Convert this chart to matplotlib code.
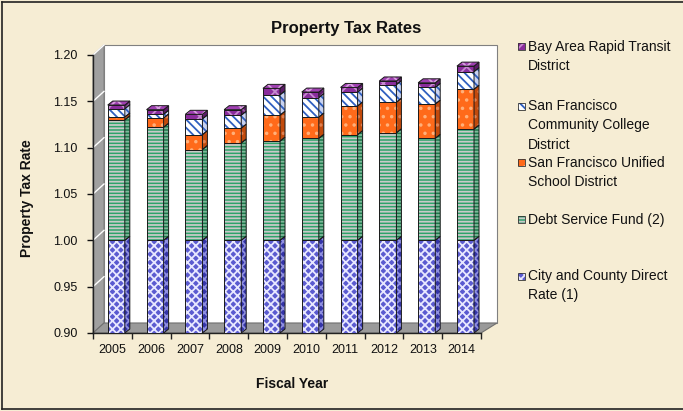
import matplotlib
matplotlib.use('Agg')
import matplotlib.pyplot as plt
from matplotlib.patches import Polygon, Rectangle
from matplotlib.lines import Line2D
from matplotlib.transforms import IdentityTransform
import numpy as np

# ---------------- data ----------------
years = ['2005', '2006', '2007', '2008', '2009', '2010', '2011', '2012', '2013', '2014']
city_direct = [1.000, 1.000, 1.000, 1.000, 1.000, 1.000, 1.000, 1.000, 1.000, 1.000]
debt_service = [0.130, 0.122, 0.098, 0.105, 0.107, 0.110, 0.114, 0.116, 0.110, 0.120]
sfusd = [0.003, 0.010, 0.016, 0.016, 0.028, 0.023, 0.031, 0.033, 0.037, 0.043]
college = [0.009, 0.004, 0.017, 0.014, 0.022, 0.021, 0.015, 0.019, 0.018, 0.019]
bart = [0.004, 0.005, 0.005, 0.006, 0.007, 0.006, 0.005, 0.004, 0.005, 0.006]

series_values = [city_direct, debt_service, sfusd, college, bart]
legend_labels = [
    ['Bay Area Rapid Transit', 'District'],
    ['San Francisco', 'Community College', 'District'],
    ['San Francisco Unified', 'School District'],
    ['Debt Service Fund (2)'],
    ['City and County Direct', 'Rate (1)'],
]
y_ticks = [0.90, 0.95, 1.00, 1.05, 1.10, 1.15, 1.20]

# styles: face, hatch, hatch colour, side face, side hatch colour
styles = [
    dict(face='#5B5BD0', hatch='xxxx', hc='#E8E8FF', side='#3434A8', shc='#9090E0'),
    dict(face='#2EA36A', hatch='-----', hc='#C9C9C9', side='#1E7A4C', shc='#7FB89A'),
    dict(face='#FF6A1A', hatch='..', hc='#FFB07A', side='#C24A0C', shc='#E08050'),
    dict(face='#FFFFFF', hatch='\\\\\\\\', hc='#2F5FC0', side='#C8D2F0', shc='#2F5FC0'),
    dict(face='#8A2C9C', hatch='xx', hc='#C58ACF', side='#5C1A68', shc='#9A5AA6'),
]
cap_style = dict(face='#A040B2', hc='#D8A0E0')

W, H = 683, 411
plt.rcParams['font.family'] = ['Liberation Sans', 'DejaVu Sans']
plt.rcParams['hatch.linewidth'] = 1.3

fig = plt.figure(figsize=(W / 100, H / 100), dpi=100)
fig.patch.set_facecolor('#F6EDD4')

AX_L, AX_R, AX_T, AX_B = 93, 481, 55, 333
ax = fig.add_axes([AX_L / W, (H - AX_B) / H, (AX_R - AX_L) / W, (AX_B - AX_T) / H])
ax.set_xlim(-0.5, len(years) - 0.5)
ax.set_ylim(0.9, 1.2)
ax.patch.set_visible(False)
for s in ['top', 'right']:
    ax.spines[s].set_visible(False)
ax.spines['left'].set_color('#222222')
ax.spines['bottom'].set_color('#222222')
ax.spines['left'].set_linewidth(1.0)
ax.spines['bottom'].set_linewidth(1.0)


def P(px, py):
    return (px, H - py)


IT = IdentityTransform()
DX, DY = 11, 10
# walls
left_wall = Polygon([P(AX_L, AX_B), P(AX_L + DX, AX_B - DY), P(AX_L + DX, AX_T - DY), P(AX_L, AX_T)],
                    closed=True, transform=IT, facecolor='#A0A0A0', edgecolor='#808080',
                    lw=0.8, clip_on=False, zorder=0.5)
back_wall = Polygon([P(AX_L + DX, AX_B - DY), P(497, AX_B - DY), P(497, AX_T - DY), P(AX_L + DX, AX_T - DY)],
                    closed=True, transform=IT, facecolor='white', edgecolor='#808080',
                    lw=0.8, clip_on=False, zorder=0.4)
floor = Polygon([P(AX_L, AX_B), P(AX_R, AX_B), P(497, AX_B - DY), P(AX_L + DX, AX_B - DY)],
                closed=True, transform=IT, facecolor='#9A9A9A', edgecolor='#707070',
                lw=0.8, clip_on=False, zorder=0.6)
for p in (back_wall, left_wall, floor):
    ax.add_patch(p)

# white gridlines on the left wall
for yt in y_ticks[1:]:
    a = ax.transData.transform((-0.5, yt))
    ax.add_line(Line2D([a[0], a[0] + DX], [a[1], a[1] + DY], transform=IT, color='white',
                       lw=1.0, clip_on=False, zorder=0.7))

# ---------------- bars ----------------
x = np.arange(len(years)) + 0.1
bw = 0.44
bdx, bdy = 5, 4
bottoms = np.zeros(len(years))
ymin = 0.9


def add_poly(pts, face, hatch, hc, z):
    ax.add_patch(Polygon(pts, closed=True, transform=IT, facecolor=face, hatch=hatch,
                         edgecolor=hc, lw=0, clip_on=False, zorder=z))
    ax.add_patch(Polygon(pts, closed=True, transform=IT, fill=False, edgecolor='#1A1A1A',
                         lw=0.7, clip_on=False, zorder=z + 0.05))


for j, vals in enumerate(series_values):
    st = styles[j]
    vals = np.array(vals)
    ax.bar(x, vals, bw, bottom=bottoms, color=st['face'], hatch=st['hatch'],
           edgecolor=st['hc'], lw=0, zorder=3)
    ax.bar(x, vals, bw, bottom=bottoms, fill=False, edgecolor='#1A1A1A', lw=0.7, zorder=3.05)
    for i in range(len(years)):
        y0 = max(bottoms[i], ymin)
        y1 = bottoms[i] + vals[i]
        a = ax.transData.transform((x[i] + bw / 2, y0))
        b = ax.transData.transform((x[i] + bw / 2, y1))
        pts = [a, a + (bdx, bdy), b + (bdx, bdy), b]
        add_poly(pts, st['side'], st['hatch'], st['shc'], 3.2)
    bottoms = bottoms + vals

# top caps
for i in range(len(years)):
    tl = ax.transData.transform((x[i] - bw / 2, bottoms[i]))
    tr = ax.transData.transform((x[i] + bw / 2, bottoms[i]))
    pts = [tl, tr, tr + (bdx, bdy), tl + (bdx, bdy)]
    add_poly(pts, cap_style['face'], 'xx', cap_style['hc'], 3.3)

# ---------------- axes ticks ----------------
ax.set_yticks(y_ticks)
ax.set_yticklabels(['%.2f' % v for v in y_ticks])
ax.tick_params(axis='y', direction='out', length=4, width=1, pad=7, labelsize=9, colors='#111111')
ax.set_xticks(np.arange(len(years)))
ax.set_xticklabels(years)
ax.set_xticks(np.arange(-0.5, len(years), 1.0), minor=True)
ax.tick_params(axis='x', which='major', length=0, pad=8, labelsize=9, colors='#111111')
ax.tick_params(axis='x', which='minor', direction='out', length=4, width=1, colors='#222222')

# ---------------- texts ----------------
fig.text(346 / W, 1 - 29 / H, 'Property Tax Rates', ha='center', va='center',
         fontsize=12, fontweight='bold', color='#111111')
fig.text(292 / W, 1 - 384 / H, 'Fiscal Year', ha='center', va='center',
         fontsize=10, fontweight='bold', color='#111111')
fig.text(27 / W, 1 - 198 / H, 'Property Tax Rate', ha='center', va='center', rotation=90,
         fontsize=10, fontweight='bold', color='#111111')

# ---------------- legend ----------------
legend_y = [47, 106, 163, 220, 276]
legend_styles = [styles[4], styles[3], styles[2], styles[1], styles[0]]
line_gap = 19.5
for lab, ly, st in zip(legend_labels, legend_y, legend_styles):
    fig.add_artist(Rectangle((518 / W, 1 - (ly + 3.5) / H), 7 / W, 7 / H, transform=fig.transFigure,
                             facecolor=st['face'], hatch=st['hatch'], edgecolor=st['hc'], lw=0))
    fig.add_artist(Rectangle((518 / W, 1 - (ly + 3.5) / H), 7 / W, 7 / H, transform=fig.transFigure,
                             fill=False, edgecolor='#333333', lw=0.6))
    for k, line in enumerate(lab):
        fig.text(528 / W, 1 - (ly + k * line_gap) / H, line, ha='left', va='center',
                 fontsize=10, color='#111111')

# frame
for xs, ys in [([2, 2], [2, 409]), ([2, W], [2, 2]), ([2, W], [409, 409])]:
    fig.add_artist(Line2D([v / W for v in xs], [1 - v / H for v in ys], transform=fig.transFigure,
                          color='#222222', lw=1.2))

fig.savefig('out.png', dpi=100, facecolor=fig.get_facecolor())
